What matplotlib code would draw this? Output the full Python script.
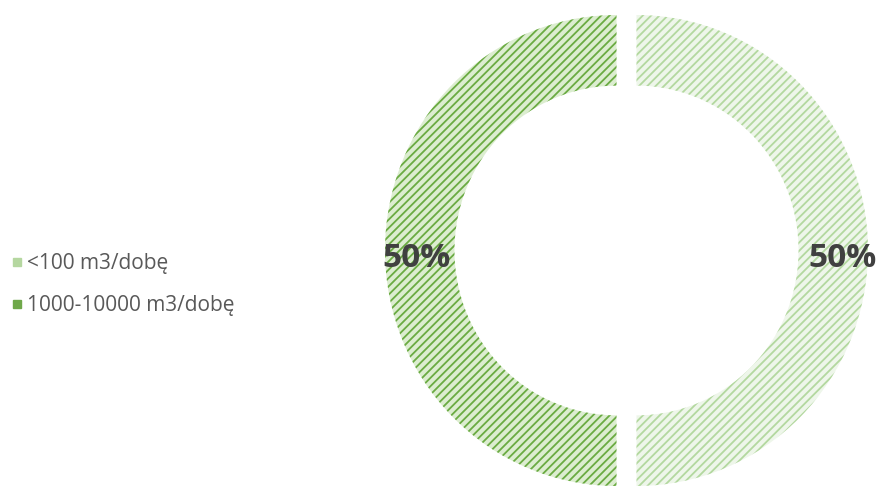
import matplotlib
matplotlib.use("Agg")
import matplotlib.pyplot as plt
from matplotlib.lines import Line2D
import matplotlib.transforms as mtransforms

categories = ["<100 m3/dobę", "1000-10000 m3/dobę"]
values = [50, 50]
face_colors = ["#eef6ea", "#dcedd0"]
hatch_colors = ["#b3d89f", "#6aab42"]
legend_colors = ["#b5d7a0", "#6fa84a"]

W, H = 878, 487
fig = plt.figure(figsize=(W / 100, H / 100), dpi=100)
ax = fig.add_axes([0, 0, 1, 1])

cx, cy = 626.5, 487 - 250.5
rx, ry = 231.5, 235.5

plt.rcParams['hatch.linewidth'] = 1.3
gap = 10 / rx
wedges, texts, autotexts = ax.pie(
    values, colors=face_colors, startangle=90, counterclock=False,
    radius=1, explode=[gap] * len(values),
    wedgeprops=dict(width=0.30, linewidth=0),
    autopct=lambda p: f"{p:.0f}%", pctdistance=0.875,
    textprops=dict(fontsize=24, fontweight='bold', color='#404040', family='Open Sans'))
for w, hc in zip(wedges, hatch_colors):
    w.set_hatch('////')
    w.set_edgecolor(hc)
    w.set_linewidth(0)
shift = mtransforms.ScaledTranslation(3 / 100, -8 / 100, fig.dpi_scale_trans)
for t in autotexts:
    t.set_va('center')
    t.set_transform(t.get_transform() + shift)
ax.set_aspect('auto')
ax.set_xlim(-cx / rx, (W - cx) / rx)
ax.set_ylim(-cy / ry, (H - cy) / ry)
ax.axis('off')

handles = [Line2D([], [], marker='s', linestyle='none', markersize=5.5,
                  markerfacecolor=c, markeredgecolor=c) for c in legend_colors]
fig.legend(handles, categories, loc='center left', bbox_to_anchor=(0.0, 0.415),
           frameon=False, labelcolor='#595959',
           prop=dict(family='Open Sans', size=15),
           handlelength=0.5, handletextpad=0.25, labelspacing=1.0,
           borderaxespad=0.25, borderpad=0.3)

fig.savefig("out.png", dpi=100)
